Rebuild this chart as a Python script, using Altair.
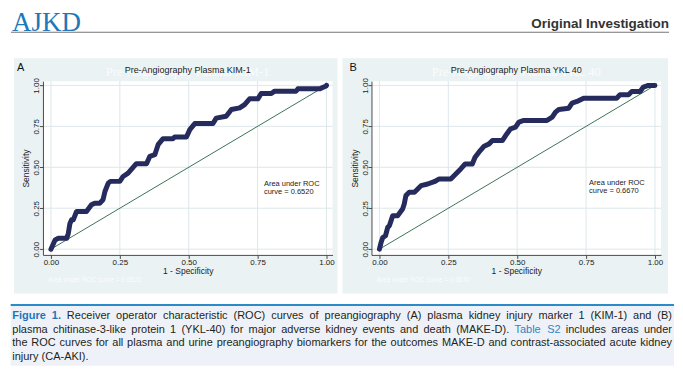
import altair as alt
import pandas as pd

# ---------------- data ----------------
fpr_a = [0.000, 0.015, 0.027, 0.057, 0.063, 0.069, 0.075, 0.081, 0.093, 0.129, 0.147, 0.159,
         0.177, 0.189, 0.196, 0.208, 0.216, 0.250, 0.262, 0.280, 0.310, 0.347, 0.359, 0.377,
         0.389, 0.407, 0.443, 0.449, 0.492, 0.504, 0.522, 0.588, 0.600, 0.636, 0.655, 0.685,
         0.703, 0.721, 0.751, 0.763, 0.800, 0.812, 0.890, 0.896, 0.975, 0.999, 1.000]
tpr_a = [0.000, 0.056, 0.066, 0.066, 0.096, 0.157, 0.179, 0.179, 0.230, 0.230, 0.271, 0.281,
         0.281, 0.302, 0.352, 0.403, 0.414, 0.414, 0.444, 0.464, 0.522, 0.522, 0.567, 0.577,
         0.638, 0.675, 0.675, 0.685, 0.685, 0.730, 0.767, 0.767, 0.800, 0.812, 0.853, 0.863,
         0.883, 0.918, 0.918, 0.951, 0.951, 0.965, 0.965, 0.979, 0.979, 0.996, 1.000]

fpr_b = [0.000, 0.006, 0.012, 0.022, 0.030, 0.036, 0.042, 0.048, 0.066, 0.084, 0.090, 0.096,
         0.108, 0.127, 0.139, 0.151, 0.175, 0.199, 0.217, 0.259, 0.277, 0.295, 0.311, 0.337,
         0.347, 0.361, 0.380, 0.398, 0.410, 0.446, 0.458, 0.476, 0.494, 0.506, 0.524, 0.608,
         0.627, 0.639, 0.651, 0.687, 0.699, 0.717, 0.741, 0.861, 0.873, 0.904, 0.916, 0.946,
         0.958, 0.976, 1.000]
tpr_b = [0.000, 0.041, 0.071, 0.082, 0.133, 0.143, 0.173, 0.204, 0.204, 0.245, 0.276, 0.327,
         0.347, 0.347, 0.367, 0.388, 0.398, 0.412, 0.429, 0.429, 0.459, 0.490, 0.520, 0.520,
         0.561, 0.592, 0.629, 0.643, 0.663, 0.663, 0.694, 0.735, 0.745, 0.776, 0.786, 0.786,
         0.806, 0.837, 0.853, 0.861, 0.892, 0.902, 0.922, 0.922, 0.943, 0.943, 0.963, 0.963,
         0.990, 1.000, 1.000]

ref_line = [0.0, 1.0]
tick_values = [0.0, 0.25, 0.50, 0.75, 1.00]

panel_titles = ["Pre-Angiography Plasma KIM-1", "Pre-Angiography Plasma YKL 40"]
panel_letters = ["A", "B"]
auc_values = ["0.6520", "0.6670"]
auc_x = [0.773, 0.761]
auc_y = [0.386, 0.392]

header_left = "AJKD"
header_right = "Original Investigation"

caption_lines = [
    "Figure 1. Receiver operator characteristic (ROC) curves of preangiography (A) plasma kidney injury marker 1 (KIM-1) and (B)",
    "plasma chitinase-3-like protein 1 (YKL-40) for major adverse kidney events and death (MAKE-D). Table S2 includes areas under",
    "the ROC curves for all plasma and urine preangiography biomarkers for the outcomes MAKE-D and contrast-associated acute kidney",
    "injury (CA-AKI).",
]
caption_bold = {(0, 0), (0, 1)}
caption_link = {(1, 13), (1, 14)}

# ---------------- style ----------------
FONT = "Liberation Sans"
W, H = 290, 174
XDOM = [-0.029, 1.022]
YDOM = [-0.035, 1.026]
NAVY = "#262b5e"
GREEN = "#3d7357"
PANEL_BG = "#eaf2f3"
GRID = "#dde7ea"
AXIS = "#4a4a4a"
TXT = "#222222"
OX = 43  # page x of every row's origin (column origins are aligned)

XS = alt.Scale(domain=XDOM, nice=False, zero=False)
YS = alt.Scale(domain=YDOM, nice=False, zero=False)
X_AXIS = alt.Axis(values=tick_values, format=".2f", title="1 - Specificity", grid=False,
                  domainColor=AXIS, tickColor=AXIS, tickSize=3.5, labelFont=FONT,
                  labelFontSize=8, labelColor=TXT, labelPadding=0, labelFlush=False,
                  labelOverlap=False, titleFont=FONT, titleFontSize=8.5,
                  titleFontWeight="normal", titleColor=TXT, titlePadding=0, zindex=1)
Y_AXIS = alt.Axis(values=tick_values, format=".2f", title="Sensitivity", grid=False,
                  domainColor=AXIS, tickColor=AXIS, tickSize=3.5, labelFont=FONT,
                  labelFontSize=8, labelColor=TXT, labelPadding=0.5, labelAngle=270,
                  labelAlign="center", labelBaseline="alphabetic", labelFlush=False,
                  labelOverlap=False, titleFont=FONT, titleFontSize=8.5,
                  titleFontWeight="normal", titleColor=TXT, titlePadding=2, zindex=1)


def one():
    return alt.Data(values=[{"k": 0}])


def X(field):
    return alt.X(field, scale=XS, axis=X_AXIS)


def Y(field):
    return alt.Y(field, scale=YS, axis=Y_AXIS)


def panel(k, fpr, tpr, extend_left, right_edge, letter_x):
    layers = []
    if extend_left:
        layers.append(alt.Chart(one()).mark_rect(color="white").encode(
            x=alt.value(-35), x2=alt.value(right_edge), y=alt.value(-23), y2=alt.value(213)))
    layers.append(alt.Chart(one()).mark_rect(color=PANEL_BG).encode(
        x=alt.value(-29), x2=alt.value(right_edge), y=alt.value(-23), y2=alt.value(213)))
    layers.append(alt.Chart(one()).mark_rect(color="white").encode(
        x=alt.value(0), x2=alt.value(W), y=alt.value(0), y2=alt.value(H)))
    tick_df = pd.DataFrame({"t": tick_values})
    layers.append(alt.Chart(tick_df).mark_rule(color=GRID, strokeWidth=1).encode(
        x=X("t:Q"), y=alt.value(0), y2=alt.value(H)))
    layers.append(alt.Chart(tick_df).mark_rule(color=GRID, strokeWidth=1).encode(
        y=Y("t:Q"), x=alt.value(0), x2=alt.value(W)))

    # ghost texts (white, as in the original export)
    layers.append(alt.Chart(one()).mark_text(
        font="Liberation Serif", fontSize=12.5, color="white", opacity=0.85,
        align="center", baseline="alphabetic").encode(
        x=alt.value(W / 2), y=alt.value(-5), text=alt.value(panel_titles[k])))
    layers.append(alt.Chart(one()).mark_text(
        font=FONT, fontSize=6.5, color="white", opacity=0.9,
        align="left", baseline="alphabetic").encode(
        x=alt.value(5), y=alt.value(201),
        text=alt.value("Area under ROC curve = " + auc_values[k])))

    layers.append(alt.Chart(one()).mark_text(
        font=FONT, fontSize=9, color=TXT, align="center", baseline="alphabetic").encode(
        x=alt.value(W / 2), y=alt.value(-7.7), text=alt.value(panel_titles[k])))
    layers.append(alt.Chart(one()).mark_text(
        font=FONT, fontSize=11, color="#111111", align="left", baseline="alphabetic").encode(
        x=alt.value(letter_x), y=alt.value(-10.5), text=alt.value(panel_letters[k])))

    ref_df = pd.DataFrame({"x": ref_line, "y": ref_line})
    layers.append(alt.Chart(ref_df).mark_line(color=GREEN, strokeWidth=1).encode(
        x=X("x:Q"), y=Y("y:Q")))

    curve_df = pd.DataFrame({"fpr": fpr, "tpr": tpr, "i": list(range(len(fpr)))})
    layers.append(alt.Chart(curve_df).mark_line(
        color=NAVY, strokeWidth=5, strokeJoin="round", strokeCap="round").encode(
        x=X("fpr:Q"), y=Y("tpr:Q"), order=alt.Order("i:Q")))

    auc_df = pd.DataFrame({
        "x": [auc_x[k], auc_x[k]],
        "y": [auc_y[k], auc_y[k] - 0.0515],
        "txt": ["Area under ROC", "curve = " + auc_values[k]],
    })
    layers.append(alt.Chart(auc_df).mark_text(
        font=FONT, fontSize=7.5, color=TXT, align="left", baseline="alphabetic").encode(
        x=X("x:Q"), y=Y("y:Q"), text="txt:N"))

    return alt.layer(*layers).properties(width=W, height=H)


pa = panel(0, fpr_a, tpr_a, True, 295, -26)
pb = panel(1, fpr_b, tpr_b, False, 297, -22)

# ---------------- header (x in view coords = page x - OX; y = page y - 8) ----------------
header = alt.layer(
    alt.Chart(one()).mark_rect(color="white").encode(
        x=alt.value(8 - OX), x2=alt.value(675 - OX), y=alt.value(0), y2=alt.value(49)),
    alt.Chart(one()).mark_rect(color="#767676").encode(
        x=alt.value(11 - OX), x2=alt.value(670 - OX), y=alt.value(22.4), y2=alt.value(23.5)),
    alt.Chart(one()).mark_text(font="Liberation Serif", fontSize=27, color="#1f78ba",
                               align="left", baseline="alphabetic").encode(
        x=alt.value(12 - OX), y=alt.value(21.5), text=alt.value(header_left)),
    alt.Chart(one()).mark_text(font=FONT, fontSize=13.5, fontWeight="bold", color="#333333",
                               align="right", baseline="alphabetic").encode(
        x=alt.value(670 - OX), y=alt.value(18.7), text=alt.value(header_right)),
).properties(width=667 - 35, height=49)

# ---------------- caption (justified word layout, Arial metrics) ----------------
AR = {' ': 278, '(': 333, ')': 333, '-': 333, '.': 278, ',': 278, ':': 278}
for d in "0123456789":
    AR[d] = 556
AR.update(dict(zip("ABCDEFGHIJKLMNOPQRSTUVWXYZ",
                   [667, 667, 722, 722, 667, 611, 778, 722, 278, 500, 667, 556, 833, 722, 778,
                    667, 778, 722, 667, 611, 722, 667, 944, 667, 667, 611])))
AR.update(dict(zip("abcdefghijklmnopqrstuvwxyz",
                   [556, 556, 500, 556, 556, 278, 556, 556, 222, 222, 500, 222, 833, 556, 556,
                    556, 556, 333, 500, 278, 556, 500, 722, 500, 500, 500])))
ARB = dict(AR)
ARB.update({'F': 611, 'i': 278, 'g': 611, 'u': 611, 'r': 389, 'e': 556, '1': 556, '.': 278})

CAP_FS = 11.0
CAP_X0, CAP_X1 = 12.3 - OX, 673.0 - OX
CAP_Y = [25.3, 38.9, 52.5, 66.1]


def wwidth(w, bold):
    tab = ARB if bold else AR
    return sum(tab.get(c, 556) for c in w) / 1000.0 * CAP_FS


rows = []
for li, line in enumerate(caption_lines):
    words = line.split(" ")
    widths = [wwidth(w, (li, wi) in caption_bold) for wi, w in enumerate(words)]
    if li < len(caption_lines) - 1 and len(words) > 1:
        gap = (CAP_X1 - CAP_X0 - sum(widths)) / (len(words) - 1)
    else:
        gap = AR[' '] / 1000.0 * CAP_FS
    x = CAP_X0
    for wi, w in enumerate(words):
        style = "b" if (li, wi) in caption_bold else ("l" if (li, wi) in caption_link else "n")
        rows.append({"w": w, "x": x, "y": CAP_Y[li], "s": style})
        x += widths[wi] + gap
cap_df = pd.DataFrame(rows)


def cap_layer(style, color, weight):
    return alt.Chart(cap_df[cap_df["s"] == style]).mark_text(
        font=FONT, fontSize=CAP_FS, color=color, fontWeight=weight,
        align="left", baseline="alphabetic").encode(
        x=alt.X("x:Q", scale=None, axis=None), y=alt.Y("y:Q", scale=None, axis=None),
        text="w:N")


caption = alt.layer(
    alt.Chart(one()).mark_rect(color="white").encode(
        x=alt.value(8 - OX), x2=alt.value(675 - OX), y=alt.value(0), y2=alt.value(72)),
    alt.Chart(one()).mark_rect(color="#eef2f8").encode(
        x=alt.value(10.7 - OX), x2=alt.value(675 - OX), y=alt.value(11), y2=alt.value(72)),
    alt.Chart(one()).mark_rule(color="#2b8bc9", strokeWidth=2).encode(
        x=alt.value(10.7 - OX), x2=alt.value(675 - OX), y=alt.value(11.3)),
    cap_layer("n", "#231f20", "normal"),
    cap_layer("l", "#2a86c6", "normal"),
    cap_layer("b", "#1b75bb", "bold"),
).properties(width=667 - 35, height=72)

chart = alt.vconcat(
    header,
    alt.hconcat(pa, pb, spacing=5),
    caption,
    spacing=0,
).properties(
    padding=0,
    background="white",
).configure_view(stroke=None)

chart.save("out.html", embed_options={"renderer": "svg", "actions": False})
